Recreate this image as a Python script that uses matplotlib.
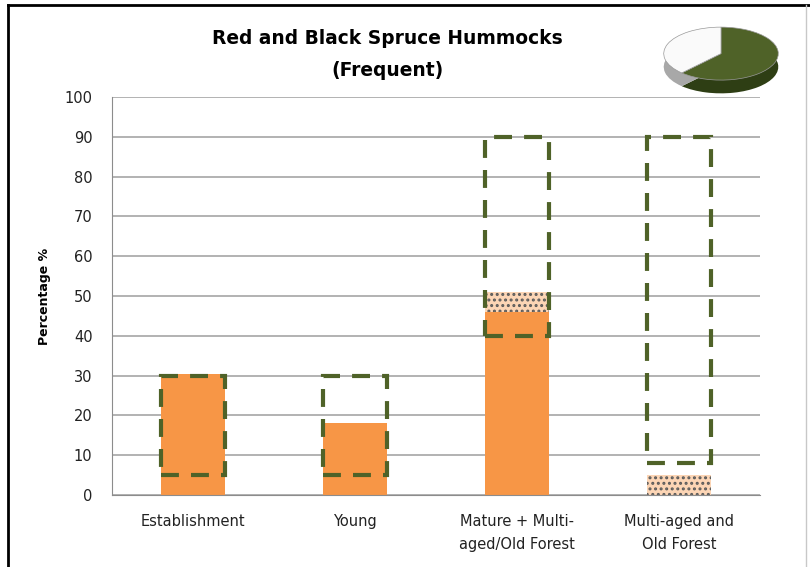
import matplotlib
matplotlib.use("Agg")
import matplotlib.pyplot as plt
from matplotlib.lines import Line2D
import numpy as np

categories = ["Establishment", "Young", "Mature + Multi-\naged/Old Forest", "Multi-aged and\nOld Forest"]
solid = [30.5, 18, 46, 0]
dotted = [0, 0, 5, 5]
range_low = [5, 5, 40, 8]
range_high = [30, 30, 90, 90]
yticks = list(range(0, 101, 10))
pie_vals = [62, 38]

orange = '#F79646'
peach = '#FCD5B5'
olive = '#4F6228'

plt.rcParams['hatch.linewidth'] = 1.4

fig = plt.figure(figsize=(8.1, 5.67), dpi=100)
ax = fig.add_axes([112/810, 1-495/567, 648/810, 398/567])

x = np.arange(len(categories))
ax.bar(x, solid, width=0.4, color=orange, zorder=2)
ax.bar(x, dotted, width=0.4, bottom=solid, color=peach, edgecolor='#5A5A5A',
       linewidth=0, hatch='...', zorder=2)
heights = [h - l for l, h in zip(range_low, range_high)]
ax.bar(x, heights, width=0.4, bottom=range_low, fill=False, edgecolor=olive,
       linewidth=3, linestyle=(0, (4.3, 2.9)), zorder=3)

ax.set_xlim(-0.5, 3.5)
ax.set_ylim(0, 100)
ax.set_yticks(yticks)
ax.set_xticks(x)
ax.set_xticklabels(categories, fontsize=10.5, color='#222222', linespacing=1.6)
ax.tick_params(axis='both', length=0, labelsize=10.5, colors='#222222')
ax.tick_params(axis='y', pad=14)
ax.tick_params(axis='x', pad=14)
ax.grid(axis='y', color='#A6A6A6', linewidth=1.2, zorder=0)
ax.set_axisbelow(True)
for s in ['top', 'right']:
    ax.spines[s].set_visible(False)
for s in ['left', 'bottom']:
    ax.spines[s].set_color('#8C8C8C')
ax.set_ylabel("Percentage %", fontsize=9, fontweight='bold', labelpad=10)

fig.text(0.478, 1-38/567, "Red and Black Spruce Hummocks", ha='center', va='center',
         fontsize=13.4, fontweight='bold')
fig.text(0.478, 1-70/567, "(Frequent)", ha='center', va='center',
         fontsize=13.4, fontweight='bold')

# pie icon
pax = fig.add_axes([662/810, 1-96/567, 118/810, 71/567])
depth = 0.5
pax.pie(pie_vals, colors=['#2E3E14', '#A8A8A8'], startangle=90, counterclock=False,
        center=(0, -depth), radius=1, wedgeprops=dict(linewidth=0))
pax.pie(pie_vals, colors=['#4F6228', '#FAFAFA'], startangle=90, counterclock=False,
        center=(0, 0), radius=1, wedgeprops=dict(linewidth=0.5, edgecolor='#999999'))
pax.set_xlim(-1.03, 1.03)
pax.set_ylim(-1.6, 1.08)
pax.set_aspect('auto')
pax.axis('off')

# outer border
fig.add_artist(Line2D([8/810, 8/810], [0, 1-5/567], color='black', linewidth=2))
fig.add_artist(Line2D([8/810, 1], [1-5/567, 1-5/567], color='black', linewidth=2))
fig.add_artist(Line2D([806/810, 806/810], [0, 1-5/567], color='#C8C8C8', linewidth=1))

fig.savefig("out.png", dpi=100)
